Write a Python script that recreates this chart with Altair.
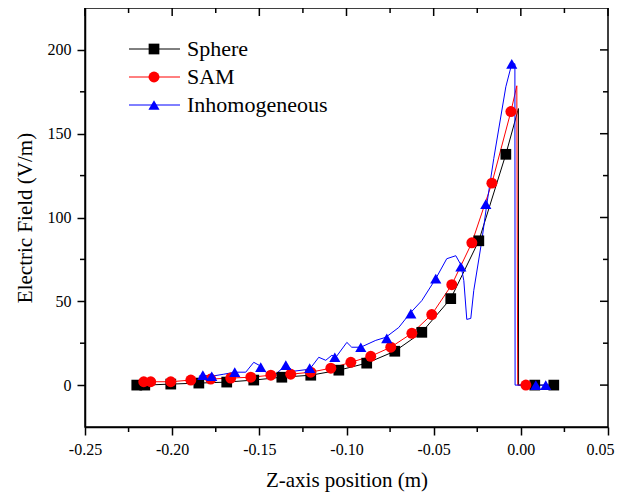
import altair as alt
import pandas as pd

# ---------------- data ----------------
series_names = ["Sphere", "SAM", "Inhomogeneous"]
series_colors = ["#000000", "#ff0000", "#0000ff"]
series_shapes = ["square", "circle", "triangle-up"]

# marker positions
sphere_mx = [-0.2203, -0.2157, -0.2008, -0.1847, -0.1687, -0.1532, -0.1371, -0.1205, -0.1044,
             -0.0884, -0.0723, -0.0568, -0.0402, -0.0241, -0.0086, 0.0080, 0.0189]
sphere_my = [0, 0, 0.6, 1.2, 1.8, 3.0, 4.7, 5.9, 8.9, 13.1, 20.2, 31.5, 51.6, 86.1, 137.7, 0, 0]

sam_mx = [-0.2163, -0.2123, -0.2008, -0.1893, -0.1779, -0.1664, -0.1549, -0.1434, -0.1320, -0.1205,
          -0.1090, -0.0975, -0.0861, -0.0746, -0.0625, -0.0511, -0.0396, -0.0281, -0.0166, -0.0057, 0.0029]
sam_my = [2.0, 2.0, 2.0, 3.0, 3.6, 4.2, 4.7, 5.9, 6.5, 7.7, 10.1, 13.6, 17.2, 22.6, 30.9, 42.1,
          59.9, 84.9, 120.5, 163.2, 0]

inh_mx = [-0.1824, -0.1773, -0.1641, -0.1492, -0.1348, -0.1211, -0.1067, -0.0918, -0.0769, -0.0631,
          -0.0488, -0.0344, -0.0201, -0.0052, 0.0086, 0.0143]
inh_my = [5.9, 5.3, 7.7, 10.7, 11.9, 10.1, 16.6, 22.6, 27.9, 42.7, 63.5, 70.6, 108.0, 191.7, 0, 0]

# curve traces
sphere_lx = sphere_mx[:15] + [-0.0014, -0.0013, 0.0189]
sphere_ly = sphere_my[:15] + [165.0, 0, 0]

sam_lx = sam_mx[:20] + [-0.0023, -0.0018, 0.0029]
sam_ly = sam_my[:20] + [178.6, 0, 0]

inh_lx = [-0.1847, -0.1824, -0.1773, -0.1704, -0.1641, -0.1578, -0.1532, -0.1492, -0.1457, -0.1406,
          -0.1348, -0.1302, -0.1211, -0.1159, -0.1119, -0.1084, -0.1061, -0.0998, -0.0970, -0.0918,
          -0.0832, -0.0775, -0.0700, -0.0637, -0.0568, -0.0488, -0.0425, -0.0373, -0.0344, -0.0327,
          -0.0310, -0.0287, -0.0270, -0.0224, -0.0195, -0.0155, -0.0086, -0.0052, -0.0034, -0.0033, 0.0143]
inh_ly = [5.3, 5.9, 5.3, 6.5, 7.7, 7.7, 13.6, 11.3, 7.1, 6.5,
          11.9, 8.3, 9.5, 16.6, 14.8, 17.8, 16.6, 25.5, 22.6, 22.6,
          26.7, 28.5, 34.4, 42.7, 50.4, 63.5, 75.4, 77.2, 71.8, 62.3,
          39.2, 39.8, 56.4, 86.1, 108.0, 135.3, 178.0, 191.7, 191.7, 0, 0]

x_major = [-0.25, -0.20, -0.15, -0.10, -0.05, 0.00, 0.05]
x_minor = [-0.225, -0.175, -0.125, -0.075, -0.025, 0.025]
y_major = [0, 50, 100, 150, 200]
y_minor = [25, 75, 125, 175]

# ---------------- tables ----------------
marker_rows = []
for name, xs_, ys_ in [("Sphere", sphere_mx, sphere_my), ("SAM", sam_mx, sam_my), ("Inhomogeneous", inh_mx, inh_my)]:
    for a, b in zip(xs_, ys_):
        marker_rows.append({"series": name, "x": a, "y": b})
markers = pd.DataFrame(marker_rows)

line_rows = []
for name, xs_, ys_ in [("Sphere", sphere_lx, sphere_ly), ("SAM", sam_lx, sam_ly), ("Inhomogeneous", inh_lx, inh_ly)]:
    for i, (a, b) in enumerate(zip(xs_, ys_)):
        line_rows.append({"series": name, "x": a, "y": b, "i": i})
lines = pd.DataFrame(line_rows)

W, H = 523, 419
FONT = "Liberation Serif"

xs = alt.Scale(domain=[-0.25, 0.05], nice=False, zero=False)
ys = alt.Scale(domain=[-25, 225], nice=False, zero=False)
color = alt.Color("series:N", scale=alt.Scale(domain=series_names, range=series_colors), legend=None)
shape = alt.Shape("series:N", scale=alt.Scale(domain=series_names, range=series_shapes), legend=None)
point_sizes = alt.Size("series:N", scale=alt.Scale(domain=series_names, range=[115, 125, 175]), legend=None)

x_axis = alt.Axis(values=x_major, title="Z-axis position (m)", labelFlush=False, labelOverlap=False,
                  labelAlign={"condition": {"test": "datum.value > 0.04", "value": "right"}, "value": "center"},
                  labelOffset={"condition": {"test": "datum.value > 0.04", "value": 6}, "value": 0},
                  labelExpr="datum.value < -0.0001 ? '-' + format(-datum.value, '.2f') : format(abs(datum.value), '.2f')")
y_axis = alt.Axis(values=y_major, title="Electric Field (V/m)", labelFlush=False, labelOverlap=False)

line_layer = alt.Chart(lines).mark_line(strokeWidth=1, clip=True).encode(
    x=alt.X("x:Q", scale=xs, axis=x_axis),
    y=alt.Y("y:Q", scale=ys, axis=y_axis),
    color=color, detail="series:N", order="i:Q")

point_layer = alt.Chart(markers).mark_point(filled=True, opacity=1, strokeWidth=0).encode(
    x=alt.X("x:Q", scale=xs, axis=x_axis), y=alt.Y("y:Q", scale=ys, axis=y_axis),
    color=color, shape=shape, size=point_sizes)

# ticks (minor outward, mirrored inward on top/right)
xmin_df = pd.DataFrame({"v": x_minor})
xmaj_df = pd.DataFrame({"v": x_major})
ymin_df = pd.DataFrame({"v": y_minor})
ymaj_df = pd.DataFrame({"v": y_major})

def xrule(df, y0, y1):
    return alt.Chart(df).mark_rule(color="black", strokeWidth=1.5).encode(
        x=alt.X("v:Q", scale=xs, axis=x_axis), y=alt.value(y0), y2=alt.value(y1))

def yrule(df, x0, x1):
    return alt.Chart(df).mark_rule(color="black", strokeWidth=1.5).encode(
        y=alt.Y("v:Q", scale=ys, axis=y_axis), x=alt.value(x0), x2=alt.value(x1))

tick_layers = [
    xrule(xmin_df, H, H + 5), xrule(xmaj_df, 0, 8), xrule(xmin_df, 0, 5),
    yrule(ymin_df, 0, -5), yrule(ymaj_df, W, W - 8), yrule(ymin_df, W, W - 5),
]

# legend (drawn in plot pixels)
leg = pd.DataFrame({"series": series_names, "ly": [41, 69, 97]})
leg_line = alt.Chart(leg).mark_rule(strokeWidth=1).encode(
    x=alt.value(44), x2=alt.value(95), y=alt.Y("ly:Q", scale=None), color=color)
leg_pt = alt.Chart(leg).mark_point(filled=True, opacity=1, strokeWidth=0).encode(
    x=alt.value(69), y=alt.Y("ly:Q", scale=None), color=color, shape=shape, size=point_sizes)
leg_txt = alt.Chart(leg).mark_text(align="left", baseline="middle", font=FONT, fontSize=22, color="black").encode(
    x=alt.value(102), y=alt.Y("ly:Q", scale=None), text="series:N")

chart = alt.layer(line_layer, point_layer, *tick_layers, leg_line, leg_pt, leg_txt).properties(
    width=W, height=H,
    background="white",
    autosize=alt.AutoSizeParams(type="none"),
    padding={"left": 77, "top": 0, "right": 7, "bottom": 70},
).configure_view(stroke="black", strokeWidth=1.5
).configure_axis(
    grid=False, tickSize=8, tickWidth=1.5, domainWidth=1.5, domainColor="black", tickColor="black",
    labelFont=FONT, labelFontSize=16, labelColor="black", labelPadding=6,
    titleFont=FONT, titleFontSize=21, titleFontWeight="normal", titleColor="black", titlePadding=12,
).configure_text(font=FONT)

chart.save("out.html", embed_options={"renderer": "svg", "actions": False})
